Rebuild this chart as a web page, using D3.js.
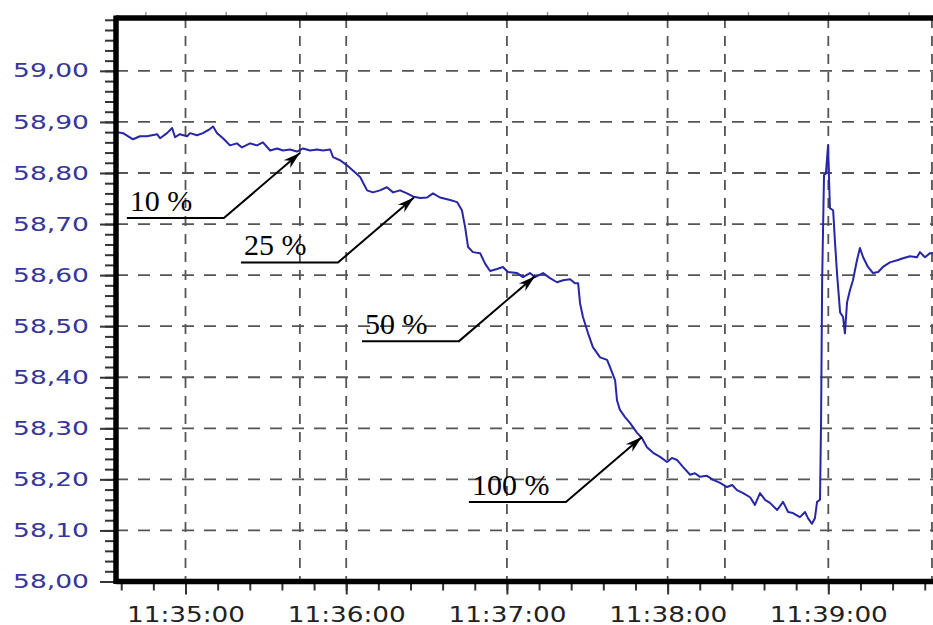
<!DOCTYPE html>
<html>
<head>
<meta charset="utf-8">
<script src="https://cdn.jsdelivr.net/npm/d3@7"></script>
<style>
body { margin: 0; background: #fff; }
.grid line { stroke: #555; stroke-width: 1.8; }
.yLabel { font-family: "DejaVu Sans", Verdana, sans-serif; font-size: 19px; fill: #35359a; }
.xLabel { font-family: "DejaVu Sans", Verdana, sans-serif; font-size: 22px; fill: #222; }
.anno { font-family: "Liberation Serif", "Times New Roman", serif; font-size: 30px; fill: #000; }
</style>
</head>
<body>
<script>
(function(){
//sampled trace, seconds after 11:34:00
var timeSec = [34.4, 36.7, 40.4, 43.0, 45.6, 49.4, 50.5, 53.1, 55.0, 56.1,
    57.9, 60.6, 61.7, 64.3, 66.5, 69.1, 70.3, 71.8, 74.0, 76.6,
    79.2, 81.1, 84.1, 86.7, 88.9, 91.6, 94.2, 96.4, 99.0, 101.6,
    103.9, 106.5, 109.1, 111.3, 114.0, 115.1, 117.7, 120.3, 122.5, 125.2,
    127.8, 130.0, 132.6, 135.2, 137.5, 140.1, 142.7, 144.9, 147.6, 150.2,
    152.4, 155.0, 158.8, 161.4, 163.2, 164.4, 165.5, 167.3, 170.0, 171.8,
    173.7, 176.3, 178.5, 180.4, 183.8, 186.0, 188.6, 190.5, 193.5, 196.1,
    198.7, 201.0, 203.6, 205.4, 206.6, 207.3, 208.4, 210.3, 212.1, 214.8,
    217.4, 218.5, 220.4, 221.1, 222.2, 224.1, 226.0, 228.6, 230.4, 232.3,
    234.6, 237.2, 239.8, 241.6, 243.5, 245.8, 248.4, 250.2, 252.1, 254.7,
    257.0, 259.6, 262.2, 264.1, 265.9, 268.2, 270.8, 272.6, 274.5, 276.4,
    278.2, 280.9, 283.1, 285.0, 286.8, 289.4, 291.3, 292.4, 293.9, 295.0,
    295.8, 296.9, 297.3, 297.7, 298.4, 299.1, 299.9, 300.6, 301.8, 302.5,
    303.3, 304.4, 305.5, 306.2, 307.0, 308.1, 309.2, 310.7, 311.8, 313.0,
    314.8, 316.7, 318.6, 320.4, 323.0, 325.7, 327.9, 330.5, 333.1, 334.2,
    336.1, 338.0, 339.1];

var level = [58.880, 58.878, 58.866, 58.872, 58.872, 58.876, 58.868, 58.878, 58.888, 58.870,
    58.876, 58.872, 58.878, 58.874, 58.878, 58.886, 58.891, 58.878, 58.868, 58.854,
    58.858, 58.850, 58.858, 58.854, 58.860, 58.844, 58.848, 58.844, 58.846, 58.842,
    58.848, 58.844, 58.846, 58.844, 58.846, 58.831, 58.825, 58.815, 58.805, 58.792,
    58.766, 58.762, 58.766, 58.772, 58.762, 58.766, 58.760, 58.754, 58.751, 58.752,
    58.760, 58.752, 58.747, 58.743, 58.727, 58.694, 58.655, 58.645, 58.643, 58.623,
    58.608, 58.612, 58.616, 58.606, 58.604, 58.596, 58.604, 58.596, 58.604, 58.594,
    58.586, 58.590, 58.592, 58.584, 58.584, 58.545, 58.518, 58.486, 58.459, 58.439,
    58.434, 58.420, 58.394, 58.355, 58.336, 58.322, 58.310, 58.291, 58.281, 58.263,
    58.252, 58.244, 58.234, 58.242, 58.238, 58.224, 58.209, 58.212, 58.205, 58.207,
    58.199, 58.193, 58.185, 58.189, 58.179, 58.173, 58.165, 58.150, 58.173, 58.160,
    58.154, 58.140, 58.156, 58.136, 58.134, 58.126, 58.136, 58.124, 58.113, 58.124,
    58.156, 58.160, 58.316, 58.590, 58.796, 58.799, 58.854, 58.731, 58.727, 58.664,
    58.600, 58.527, 58.518, 58.486, 58.547, 58.571, 58.590, 58.629, 58.653, 58.635,
    58.616, 58.604, 58.606, 58.616, 58.625, 58.629, 58.633, 58.637, 58.635, 58.645,
    58.635, 58.643, 58.643];

//annotation arrows (label, where the arrow points)
var annoLabels = ["10 %", "25 %", "50 %", "100 %"];
var annoSec = [102.7, 145.3, 190.5, 230.4];
var annoLevel = [58.839, 58.752, 58.598, 58.283];

//axis ranges and the odd extra grid lines of the original
var timeDomainSec = [34.05, 341.7];
var levelDomain = [58.0, 59.1035];
var extraGridSec = [102.7, 261.4, 338.7];

var base = new Date(2000, 0, 1, 11, 34, 0);
function toDate(s){ return new Date(base.getTime() + s * 1000); }

window.onload = setChart();

function setChart(){
    var width = 933, height = 625,
        left = 116, right = 940, top = 18, bottom = 581.5;

    var svg = d3.select("body").append("svg")
        .attr("width", width)
        .attr("height", height);

    var x = d3.scaleTime()
        .domain(timeDomainSec.map(toDate))
        .range([left, right]);
    var y = d3.scaleLinear()
        .domain(levelDomain)
        .range([bottom, top]);

    var majorY = d3.range(0, 11).map(function(i){ return 58 + i * 0.1; });
    var minorY = d3.range(0, 56).map(function(i){ return 58 + i * 0.02; });
    var majorX = x.ticks(d3.timeMinute.every(1));
    var minorX = x.ticks(d3.timeSecond.every(12));

    svg.append("defs").append("clipPath").attr("id", "plot")
        .append("rect")
        .attr("x", left).attr("y", top)
        .attr("width", right - left).attr("height", bottom - top);

    //grid
    var grid = svg.append("g").attr("class", "grid").attr("clip-path", "url(#plot)");
    grid.selectAll(".h").data(majorY.slice(1)).enter().append("line")
        .attr("x1", left).attr("x2", right)
        .attr("y1", function(d){ return y(d); })
        .attr("y2", function(d){ return y(d); })
        .attr("stroke-dasharray", "12,10");
    grid.selectAll(".v").data(majorX.concat(extraGridSec.map(toDate))).enter().append("line")
        .attr("y1", top).attr("y2", bottom)
        .attr("x1", function(d){ return x(d); })
        .attr("x2", function(d){ return x(d); })
        .attr("stroke-dasharray", "10,8");

    //top minor ticks
    svg.append("g").attr("transform", "translate(0," + top + ")")
        .call(d3.axisTop(x).ticks(d3.timeSecond.every(15)).tickSize(6).tickFormat(""))
        .call(function(g){
            g.select(".domain").remove();
            g.selectAll("line").attr("stroke", "#999").attr("stroke-width", 1.5);
        });

    //left axis: minor + major ticks
    svg.append("g").attr("transform", "translate(" + left + ",0)")
        .call(d3.axisLeft(y).tickValues(minorY).tickSize(11).tickFormat(""))
        .call(function(g){
            g.select(".domain").remove();
            g.selectAll("line").attr("stroke", "#333").attr("stroke-width", 2);
        });
    svg.append("g").attr("transform", "translate(" + left + ",0)")
        .call(d3.axisLeft(y).tickValues(majorY).tickSize(16).tickPadding(11)
            .tickFormat(function(d){ return d3.format(".2f")(d).replace(".", ","); }))
        .call(function(g){
            g.select(".domain").remove();
            g.selectAll("line").attr("stroke", "#333").attr("stroke-width", 2);
            g.selectAll("text")
                .attr("class", "yLabel")
                .attr("font-family", null).attr("font-size", null).attr("fill", null)
                .attr("textLength", 76)
                .attr("lengthAdjust", "spacingAndGlyphs");
        });

    //bottom axis
    svg.append("g").attr("transform", "translate(0," + bottom + ")")
        .call(d3.axisBottom(x).tickValues(minorX).tickSize(9).tickFormat(""))
        .call(function(g){
            g.select(".domain").remove();
            g.selectAll("line").attr("stroke", "#333").attr("stroke-width", 2);
        });
    svg.append("g").attr("transform", "translate(0," + bottom + ")")
        .call(d3.axisBottom(x).tickValues(majorX).tickSize(13).tickFormat(d3.timeFormat("%H:%M:%S")))
        .call(function(g){
            g.select(".domain").remove();
            g.selectAll("line").attr("stroke", "#333").attr("stroke-width", 2);
            g.selectAll("text")
                .attr("class", "xLabel")
                .attr("font-family", null).attr("font-size", null).attr("fill", null)
                .attr("y", 40).attr("dy", 0)
                .attr("textLength", 118)
                .attr("lengthAdjust", "spacingAndGlyphs");
        });

    //data line
    var data = timeSec.map(function(s, i){ return {t: toDate(s), v: level[i]}; });
    var line = d3.line()
        .x(function(d){ return x(d.t); })
        .y(function(d){ return y(d.v); });
    svg.append("path")
        .datum(data)
        .attr("clip-path", "url(#plot)")
        .attr("fill", "none")
        .attr("stroke", "#2626a6")
        .attr("stroke-width", 2)
        .attr("stroke-linejoin", "round")
        .attr("d", line);

    //frame (thick left, top and bottom borders)
    var frame = svg.append("g").attr("stroke", "#000").attr("stroke-width", 5.5);
    frame.append("line").attr("x1", left).attr("x2", left).attr("y1", top - 2.5).attr("y2", bottom + 2.5);
    frame.append("line").attr("x1", left).attr("x2", right).attr("y1", top).attr("y2", top);
    frame.append("line").attr("x1", left).attr("x2", right).attr("y1", bottom).attr("y2", bottom);

    //annotations
    svg.select("defs").append("marker")
        .attr("id", "arrow")
        .attr("viewBox", "-18 -6 20 12")
        .attr("refX", 0).attr("refY", 0)
        .attr("markerUnits", "userSpaceOnUse")
        .attr("markerWidth", 20).attr("markerHeight", 12)
        .attr("orient", "auto")
        .append("path")
        .attr("d", "M0,0L-17,-5L-12,0L-17,5Z")
        .attr("fill", "#000");

    var anno = svg.append("g");
    annoLabels.forEach(function(label, i){
        var tx = x(toDate(annoSec[i])), ty = y(annoLevel[i]);
        var ex = tx - 76, ey = ty + 65, sx = ex - 97;
        anno.append("path")
            .attr("d", "M" + sx + "," + ey + "L" + ex + "," + ey + "L" + tx + "," + ty)
            .attr("fill", "none")
            .attr("stroke", "#000")
            .attr("stroke-width", 2)
            .attr("marker-end", "url(#arrow)");
        anno.append("text")
            .attr("class", "anno")
            .attr("x", sx + 3)
            .attr("y", ey - 7)
            .text(label);
    });
};

})();
</script>
</body>
</html>
